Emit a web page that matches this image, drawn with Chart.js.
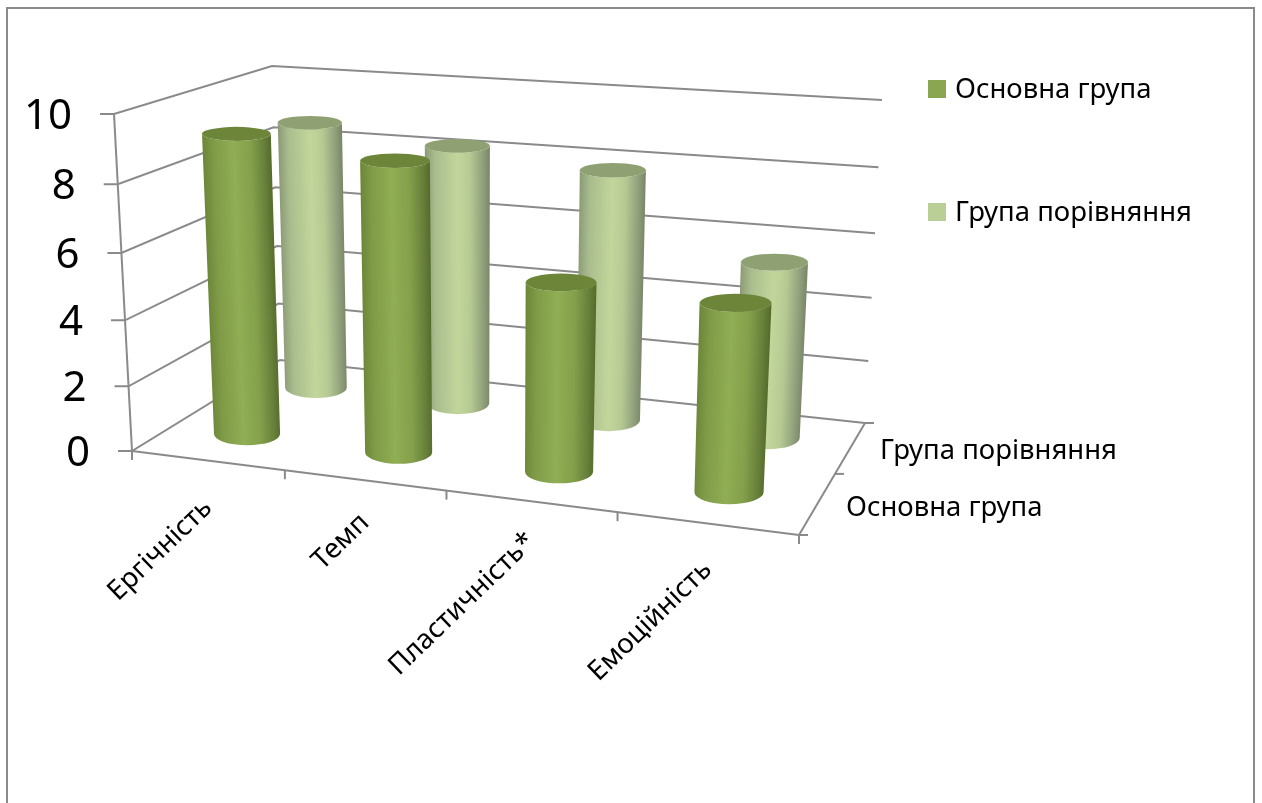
<!DOCTYPE html>
<html>
<head>
<meta charset="utf-8">
<title>Показники</title>
<style>
  html, body { margin: 0; padding: 0; background: #fff; }
  canvas { display: block; }
</style>
<script src="https://cdn.jsdelivr.net/npm/chart.js@4/dist/chart.umd.js"></script>
</head>
<body>
<canvas id="myChart" width="1262" height="803"></canvas>
<script>
const categories = ['Ергічність', 'Темп', 'Пластичність*', 'Емоційність'];
const seriesNames = ['Основна група', 'Група порівняння'];
const mainValues = [9.2, 8.8, 5.7, 5.6];
const compareValues = [8.7, 8.3, 7.9, 5.5];
const yTicks = [0, 2, 4, 6, 8, 10];

const FONT = '"Noto Sans", sans-serif';
const GRID = '#8a8a8a';

// corners of the 3D box on screen: f = front, b = back, l = left, r = right
const floorBox = { fl: [132, 451], fr: [799, 535], bl: [280, 360], br: [865, 423] };
const roofBox = { fl: [114, 114], fr: [815, 175], bl: [272, 66], br: [882, 100] };

function persp(t, c) {
  return t * (1 - c) / (1 - c * t);
}

function lerp(a, b, t) {
  return [a[0] + (b[0] - a[0]) * t, a[1] + (b[1] - a[1]) * t];
}

function onPlane(box, u, v) {
  return lerp(lerp(box.fl, box.fr, u), lerp(box.bl, box.br, u), v);
}

// u along categories, v into depth, t up the value axis, all 0..1
function project(u, v, t) {
  const pu = persp(u, 0.108);
  const pv = persp(v, -0.2);
  return lerp(onPlane(floorBox, pu, pv), onPlane(roofBox, pu, pv), persp(t, 0.05));
}

function segment(ctx, a, b) {
  ctx.beginPath();
  ctx.moveTo(a[0], a[1]);
  ctx.lineTo(b[0], b[1]);
  ctx.stroke();
}

function bodyGradient(ctx, p0, p1, rx, stops) {
  const dx = p1[0] - p0[0], dy = p1[1] - p0[1];
  const len = Math.hypot(dx, dy) || 1;
  const nx = -dy / len, ny = dx / len;
  const sign = nx < 0 ? -1 : 1;
  const mx = (p0[0] + p1[0]) / 2, my = (p0[1] + p1[1]) / 2;
  const g = ctx.createLinearGradient(mx - sign * nx * rx, my - sign * ny * rx, mx + sign * nx * rx, my + sign * ny * rx);
  stops.forEach(s => g.addColorStop(s[0], s[1]));
  return g;
}

class CylinderController extends Chart.BarController {
  draw() {
    const meta = this.getMeta();
    const ctx = this.chart.ctx;
    const area = this.chart.chartArea;
    const depth = this.chart.scales.depth;
    const ds = this.getDataset();
    const v = (depth.getPixelForValue(this.index) - depth.left) / depth.width;
    meta.data.forEach((el, i) => {
      const u = (el.x - area.left) / area.width;
      const t = (el.base - el.y) / area.height;
      const p0 = project(u, v, 0);
      const p1 = project(u, v, t);
      const pu = persp(u, 0.108);
      const pv = persp(v, -0.2);
      const r = el.width / 2 * (1 + 0.06 * (pu - 0.5)) * (1 - 0.13 * pv);
      const rx0 = r * 0.98, rx1 = r * 1.02;
      const value = ds.data[i];
      const ry0 = rx0 * 0.345;
      const ry1 = rx1 * (0.33 - 0.014 * value);

      ctx.save();
      ctx.beginPath();
      ctx.ellipse(p0[0], p0[1], rx0, ry0, 0, 0, Math.PI);
      ctx.lineTo(p1[0] - rx1, p1[1]);
      ctx.ellipse(p1[0], p1[1], rx1, ry1, 0, Math.PI, 0, true);
      ctx.closePath();
      ctx.fillStyle = bodyGradient(ctx, p0, p1, r, ds.bodyStops);
      ctx.fill();
      ctx.beginPath();
      ctx.ellipse(p1[0], p1[1], rx1, ry1, 0, 0, Math.PI * 2);
      ctx.fillStyle = ds.capColor;
      ctx.fill();
      ctx.restore();
    });
  }
}
CylinderController.id = 'cylinder';
CylinderController.defaults = {};
CylinderController.overrides = Chart.BarController.overrides;
Chart.register(CylinderController);

// frame, walls and axis ticks go under the cylinders
const boxPlugin = {
  id: 'box',
  beforeDatasetsDraw(chart) {
    const ctx = chart.ctx;
    const y = chart.scales.y;
    ctx.save();
    ctx.strokeStyle = GRID;
    ctx.lineWidth = 2;
    ctx.strokeRect(7, 8, 1247, 810);

    y.ticks.forEach(tick => {
      const t = (y.bottom - y.getPixelForValue(tick.value)) / y.height;
      const a = project(0, 0, t), b = project(0, 1, t), c = project(1, 1, t);
      ctx.beginPath();
      ctx.moveTo(a[0] - 14, a[1]);
      ctx.lineTo(a[0], a[1]);
      ctx.lineTo(b[0], b[1]);
      ctx.lineTo(c[0], c[1]);
      ctx.stroke();
    });

    segment(ctx, project(0, 0, 0), project(0, 0, 1));
    segment(ctx, project(0, 0, 0), project(1, 0, 0));
    segment(ctx, project(1, 0, 0), project(1, 1, 0));

    const n = categories.length;
    for (let i = 0; i <= n; i++) {
      const p = project(i / n, 0, 0);
      segment(ctx, p, [p[0], p[1] + 9]);
    }
    const m = seriesNames.length;
    for (let i = 0; i <= m; i++) {
      const p = project(1, i / m, 0);
      segment(ctx, p, [p[0] + 9, p[1]]);
    }
    ctx.restore();
  }
};

// tick labels and legend sit along the slanted axes, so they are placed by hand
const labelPlugin = {
  id: 'labels',
  afterDatasetsDraw(chart) {
    const ctx = chart.ctx;
    const y = chart.scales.y;
    const x = chart.scales.x;
    const area = chart.chartArea;
    ctx.save();
    ctx.fillStyle = '#000';

    ctx.font = '42px ' + FONT;
    ctx.textAlign = 'right';
    ctx.textBaseline = 'middle';
    yTicks.forEach(value => {
      const t = (y.bottom - y.getPixelForValue(value)) / y.height;
      const p = project(0, 0, t);
      ctx.fillText(String(value), p[0] - 42, p[1] + 3);
    });

    ctx.font = '27.5px ' + FONT;
    ctx.textBaseline = 'alphabetic';
    const drops = [49, 44, 42, 48];
    categories.forEach((name, i) => {
      const u = (x.getPixelForValue(i) - area.left) / area.width;
      const p = project(u, 0, 0);
      ctx.save();
      ctx.translate(p[0] + 6, p[1] + drops[i]);
      ctx.rotate(-44 * Math.PI / 180);
      ctx.fillText(name, 0, 0);
      ctx.restore();
    });

    ctx.textAlign = 'left';
    ctx.fillText(seriesNames[0], 846, 516);
    ctx.fillText(seriesNames[1], 880, 459);

    const swatches = ['#8aa650', '#b9cf96'];
    const legendY = [80, 203];
    seriesNames.forEach((name, i) => {
      ctx.fillStyle = swatches[i];
      ctx.fillRect(928, legendY[i], 18, 18);
      ctx.fillStyle = '#000';
      ctx.fillText(name, 955, legendY[i] + 18);
    });
    ctx.restore();
  }
};

new Chart(document.getElementById('myChart'), {
  type: 'cylinder',
  data: {
    labels: categories,
    datasets: [{
      label: seriesNames[0],
      data: mainValues,
      grouped: false,
      clip: false,
      barPercentage: 0.43,
      categoryPercentage: 1,
      capColor: '#6c8539',
      bodyStops: [[0, '#6c8739'], [0.15, '#7f9b47'], [0.45, '#90ae54'], [0.7, '#84a04b'], [0.9, '#67803a'], [1, '#566c2c']]
    }, {
      label: seriesNames[1],
      data: compareValues,
      grouped: false,
      clip: false,
      barPercentage: 0.43,
      categoryPercentage: 1,
      capColor: '#8fa073',
      bodyStops: [[0, '#8d9c78'], [0.15, '#a9bc8d'], [0.5, '#c2d69b'], [0.7, '#b5c993'], [0.9, '#909f7b'], [1, '#7a8868']]
    }]
  },
  options: {
    responsive: false,
    animation: false,
    devicePixelRatio: 1,
    layout: { padding: { left: 132, right: 463, top: 114, bottom: 352 } },
    plugins: { legend: { display: false }, tooltip: { enabled: false } },
    scales: {
      x: { display: false, type: 'category', offset: true },
      y: { display: false, type: 'linear', min: 0, max: 10, ticks: { stepSize: 2 } },
      depth: { display: false, type: 'category', axis: 'x', position: 'bottom', offset: true, labels: seriesNames }
    }
  },
  plugins: [boxPlugin, labelPlugin]
});
</script>
</body>
</html>
